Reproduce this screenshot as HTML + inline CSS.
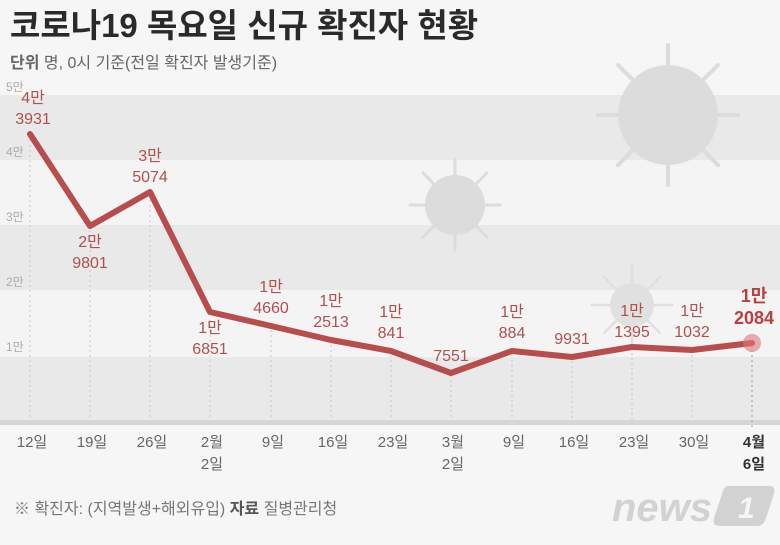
<!DOCTYPE html>
<html><head><meta charset="utf-8"><style>
body{margin:0;width:780px;height:540px;overflow:hidden;background:#f6f6f6;font-family:"Liberation Sans","Noto Sans CJK KR",sans-serif;}
</style></head><body>
<svg width="780" height="540" viewBox="0 0 780 540" xmlns="http://www.w3.org/2000/svg" font-family="Liberation Sans, Noto Sans CJK KR, sans-serif">
<rect width="780" height="540" fill="#f6f6f6"/>
<rect x="0" y="95" width="780" height="65" fill="#e9e9e9"/>
<rect x="0" y="160" width="780" height="65" fill="#f4f4f4"/>
<rect x="0" y="225" width="780" height="65" fill="#e9e9e9"/>
<rect x="0" y="290" width="780" height="67" fill="#f4f4f4"/>
<rect x="0" y="357" width="780" height="63" fill="#e9e9e9"/>
<rect x="0" y="420" width="780" height="5" fill="#d6d6d6"/>
<g fill="#dcdcdc" stroke="#dcdcdc" stroke-width="4" stroke-linecap="round">
<circle cx="668" cy="115" r="50" stroke="none"/>
<g><line x1="668" y1="45" x2="668" y2="185"/><line x1="598" y1="115" x2="738" y2="115"/><line x1="618" y1="65" x2="718" y2="165"/><line x1="718" y1="65" x2="618" y2="165"/></g>
<circle cx="455" cy="205" r="30" stroke="none"/>
<g stroke-width="3"><line x1="455" y1="160" x2="455" y2="250"/><line x1="410" y1="205" x2="500" y2="205"/><line x1="423" y1="173" x2="487" y2="237"/><line x1="487" y1="173" x2="423" y2="237"/></g>
<circle cx="632" cy="305" r="22" stroke="none" fill="#e0e0e0"/>
<g stroke-width="2.5" stroke="#e0e0e0"><line x1="632" y1="265" x2="632" y2="345"/><line x1="592" y1="305" x2="672" y2="305"/><line x1="604" y1="277" x2="660" y2="333"/><line x1="660" y1="277" x2="604" y2="333"/></g>
</g>
<text x="10" y="37" font-size="33" font-weight="bold" fill="#2a2a2a">코로나19 목요일 신규 확진자 현황</text>
<text x="10" y="68" font-size="16" fill="#666"><tspan font-weight="bold">단위</tspan>  명, 0시 기준(전일 확진자 발생기준)</text>
<g font-size="12" fill="#aaa">
<text x="6" y="91">5만</text><text x="6" y="156">4만</text><text x="6" y="221">3만</text><text x="6" y="286">2만</text><text x="6" y="351">1만</text>
</g>
<g stroke="#c8c8c8" stroke-width="1" stroke-dasharray="2,3">
<line x1="30" y1="140" x2="30" y2="420"/><line x1="90" y1="230" x2="90" y2="420"/><line x1="150" y1="200" x2="150" y2="420"/><line x1="210" y1="320" x2="210" y2="420"/><line x1="271" y1="330" x2="271" y2="420"/><line x1="331" y1="340" x2="331" y2="420"/><line x1="391" y1="350" x2="391" y2="420"/><line x1="451" y1="375" x2="451" y2="420"/><line x1="512" y1="350" x2="512" y2="420"/><line x1="572" y1="356" x2="572" y2="420"/><line x1="632" y1="348" x2="632" y2="420"/><line x1="692" y1="350" x2="692" y2="420"/>
<line x1="752" y1="345" x2="752" y2="430" stroke="#999"/>
</g>
<polyline fill="none" stroke="#b84d4d" stroke-width="6" stroke-linejoin="round" stroke-linecap="round" points="30,134 90,226 150,192 210,312 271,326 331,340 391,351 451,373 512,351 572,357 632,347 692,350 752,343"/>
<circle cx="752" cy="343" r="9" fill="#d77" opacity="0.6"/>
<g font-size="16" fill="#b05050" text-anchor="middle">
<text x="33" y="103">4만</text><text x="33" y="124">3931</text>
<text x="90" y="247">2만</text><text x="90" y="268">9801</text>
<text x="150" y="161">3만</text><text x="150" y="182">5074</text>
<text x="210" y="333">1만</text><text x="210" y="354">6851</text>
<text x="271" y="292">1만</text><text x="271" y="313">4660</text>
<text x="331" y="306">1만</text><text x="331" y="327">2513</text>
<text x="391" y="317">1만</text><text x="391" y="338">841</text>
<text x="451" y="361">7551</text>
<text x="512" y="317">1만</text><text x="512" y="338">884</text>
<text x="572" y="344">9931</text>
<text x="632" y="316">1만</text><text x="632" y="337">1395</text>
<text x="692" y="316">1만</text><text x="692" y="337">1032</text>
<text x="754" y="302" font-size="18" font-weight="bold" fill="#b84040">1만</text><text x="754" y="324" font-size="18" font-weight="bold" fill="#b84040">2084</text>
</g>
<g font-size="15" fill="#666" text-anchor="middle">
<text x="32" y="447">12일</text><text x="92" y="447">19일</text><text x="152" y="447">26일</text>
<text x="212" y="447">2월</text><text x="212" y="469">2일</text>
<text x="273" y="447">9일</text><text x="333" y="447">16일</text><text x="393" y="447">23일</text>
<text x="453" y="447">3월</text><text x="453" y="469">2일</text>
<text x="514" y="447">9일</text><text x="574" y="447">16일</text><text x="634" y="447">23일</text><text x="694" y="447">30일</text>
<text x="754" y="447" font-weight="bold" fill="#333">4월</text><text x="754" y="469" font-weight="bold" fill="#333">6일</text>
</g>
<text x="14" y="514" font-size="16" fill="#777">※ 확진자: (지역발생+해외유입)  <tspan font-weight="bold" fill="#555">자료</tspan>  질병관리청</text>
<text x="612" y="521" font-size="40" font-style="italic" font-weight="bold" fill="#d2d2d2">news</text>
<path d="M728,486 L770,486 Q776,486 774,494 L766,518 Q764,526 756,526 L720,526 Q712,526 714,518 L722,494 Q724,486 728,486 Z" fill="#d2d2d2"/>
<text x="738" y="518" font-size="30" font-style="italic" font-weight="bold" fill="#f6f6f6">1</text>
</svg>
</body></html>
